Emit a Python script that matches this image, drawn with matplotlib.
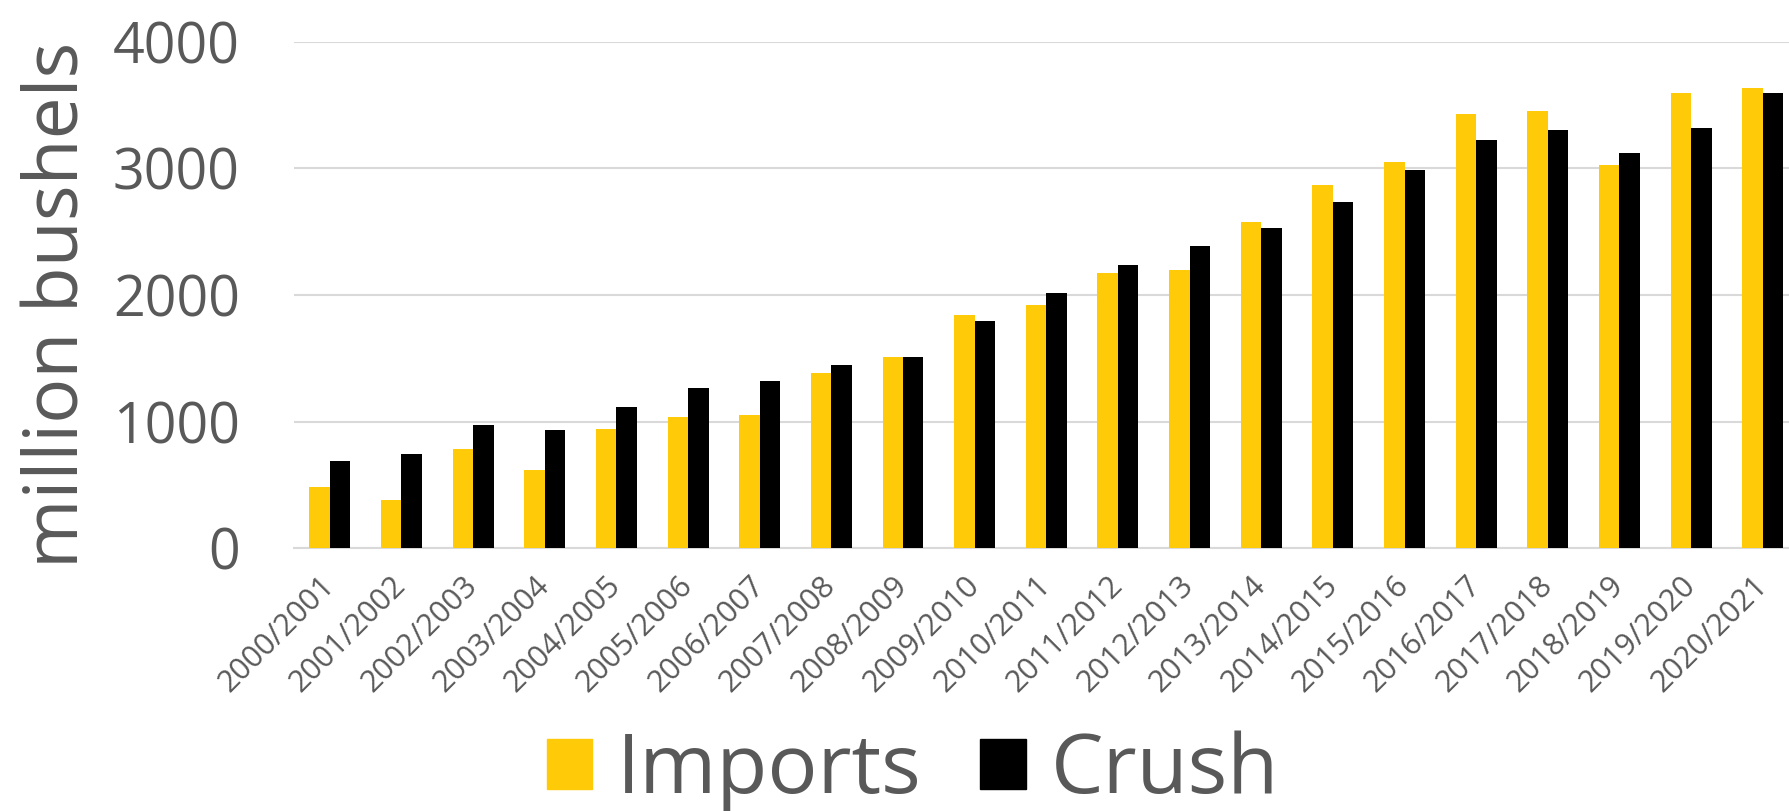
import numpy as np
import matplotlib.pyplot as plt
from matplotlib.patches import Patch

# marketing years on the x axis
years = ['2000/2001', '2001/2002', '2002/2003', '2003/2004', '2004/2005',
         '2005/2006', '2006/2007', '2007/2008', '2008/2009', '2009/2010',
         '2010/2011', '2011/2012', '2012/2013', '2013/2014', '2014/2015',
         '2015/2016', '2016/2017', '2017/2018', '2018/2019', '2019/2020',
         '2020/2021']

# million bushels
imports = [482, 379, 782, 616, 943, 1036, 1052, 1385, 1507, 1845, 1917,
           2172, 2197, 2581, 2873, 3055, 3434, 3456, 3031, 3600, 3633]
crush = [690, 741, 973, 929, 1112, 1262, 1319, 1447, 1507, 1796, 2017,
         2238, 2388, 2527, 2734, 2990, 3227, 3303, 3121, 3320, 3598]

yticks = [0, 1000, 2000, 3000, 4000]

YELLOW = '#FFCA08'
BLACK = '#000000'
GREY = '#595959'
GRID = '#D9D9D9'

plt.rcParams['font.family'] = ['Open Sans', 'DejaVu Sans']

fig = plt.figure(figsize=(17.9, 8.11), dpi=100)
ax = fig.add_axes([294 / 1790, 1 - 548 / 811, (1790 - 294) / 1790, (548 - 42) / 811])

x = np.arange(len(years))
w = 0.286
ax.bar(x - w / 2, imports, width=w, color=YELLOW, label='Imports', zorder=3)
ax.bar(x + w / 2, crush, width=w, color=BLACK, label='Crush', zorder=3)

ax.set_xlim(-0.5, 20.38)
ax.set_ylim(0, 4000)
ax.set_yticks(yticks)
ax.set_yticklabels([str(v) for v in yticks], fontsize=40, color=GREY)
ax.grid(axis='y', color=GRID, linewidth=1.5, zorder=0)
ax.set_axisbelow(True)

ax.set_xticks(x)
ax.set_xticklabels(years, fontsize=22, color=GREY, rotation=45,
                   ha='right', va='center', rotation_mode='anchor')
ax.tick_params(axis='x', length=0, pad=24)
ax.tick_params(axis='y', length=0, pad=39)

for s in ['top', 'right', 'left']:
    ax.spines[s].set_visible(False)
ax.spines['bottom'].set_color(GRID)
ax.spines['bottom'].set_linewidth(1.5)

ax.set_ylabel('million bushels', fontsize=54, color=GREY)
ax.yaxis.set_label_coords(-(294 - 59) / 1496, 0.48)
ax.yaxis.label.set_va('center')

handles = [Patch(color=YELLOW, label='Imports'), Patch(color=BLACK, label='Crush')]
fig.legend(handles=handles, loc='center', bbox_to_anchor=(913 / 1790, 1 - 772 / 811),
           ncol=2, frameon=False, fontsize=60, labelcolor=GREY,
           handlelength=0.55, handleheight=0.55, handletextpad=0.3,
           columnspacing=0.7)

fig.savefig('out.png', dpi=100)
